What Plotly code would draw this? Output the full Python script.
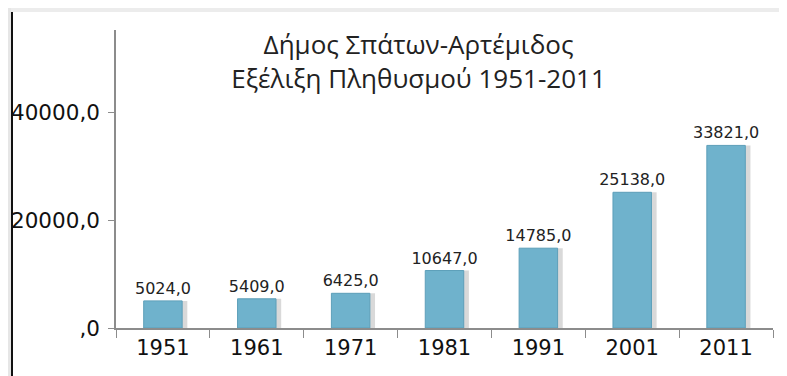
import plotly.graph_objects as go

years = ["1951", "1961", "1971", "1981", "1991", "2001", "2011"]
population = [5024.0, 5409.0, 6425.0, 10647.0, 14785.0, 25138.0, 33821.0]
labels = ["5024,0", "5409,0", "6425,0", "10647,0", "14785,0", "25138,0", "33821,0"]
ytick_vals = [0, 20000, 40000]
ytick_text = [",0", "20000,0", "40000,0"]
title_lines = ["Δήμος Σπάτων-Αρτέμιδος", "Εξέλιξη Πληθυσμού 1951-2011"]

PW, PH = 657, 298  # plot area size in px

fig = go.Figure()
# soft shadow behind bars
fig.add_trace(go.Bar(
    x=years, y=population, width=0.44, offset=-0.18,
    marker=dict(color="rgba(0,0,0,0.15)", line=dict(width=0)),
    hoverinfo="skip", showlegend=False,
))
fig.add_trace(go.Bar(
    x=years, y=population, width=0.41, offset=-0.205,
    marker=dict(color="#6fb2cc", line=dict(color="#5d9fb9", width=1)),
    text=labels, textposition="outside", cliponaxis=False,
    constraintext="none",
    textfont=dict(family="DejaVu Sans", size=16, color="#222222"),
    showlegend=False,
))

fig.update_layout(
    width=779, height=368,
    margin=dict(l=108, r=14, t=22, b=48, autoexpand=False),
    paper_bgcolor="white", plot_bgcolor="white",
    barmode="overlay",
    title=dict(
        text="<br>".join(title_lines),
        x=0.527, xanchor="center", y=0.874, yanchor="top",
        automargin=False,
        font=dict(family="Open Sans", size=26, color="#222222"),
    ),
    xaxis=dict(
        showline=True, linecolor="#8c8c8c", linewidth=1.5,
        ticks="outside", tickson="boundaries", ticklen=8, tickcolor="#8c8c8c",
        tickfont=dict(family="DejaVu Sans", size=21, color="#111111"),
        showgrid=False, zeroline=False, automargin=False,
    ),
    yaxis=dict(
        range=[0, 55200], showline=True, linecolor="#8c8c8c", linewidth=1.5,
        ticks="outside", ticklen=6, tickcolor="#8c8c8c",
        ticklabelstandoff=4,
        tickvals=ytick_vals, ticktext=ytick_text,
        tickfont=dict(family="DejaVu Sans", size=21.5, color="#111111"),
        showgrid=False, zeroline=False, automargin=False,
    ),
    shapes=[
        dict(type="rect", xref="paper", yref="paper", x0=-108/PW, x1=(779-108)/PW,
             y0=1 + 18/PH, y1=1 + 22/PH, fillcolor="#ececec", line=dict(width=0), layer="below"),
        dict(type="rect", xref="paper", yref="paper", x0=-108/PW, x1=-105/PW,
             y0=-48/PH, y1=1 + 22/PH, fillcolor="#e6e6e6", line=dict(width=0), layer="below"),
        dict(type="line", xref="paper", yref="paper", x0=-104/PW, x1=-104/PW,
             y0=-48/PH, y1=1 + 18/PH, line=dict(color="#111111", width=2)),
    ],
)

fig.write_html("out.html")
